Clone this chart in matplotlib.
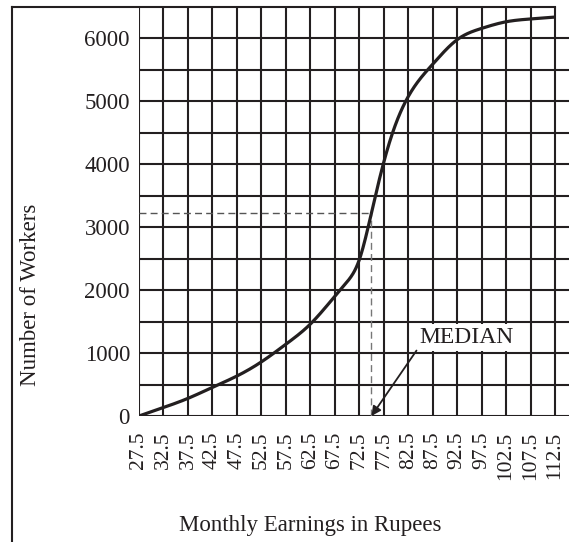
import numpy as np
import matplotlib
matplotlib.use("Agg")
import matplotlib.pyplot as plt
from matplotlib.lines import Line2D

# class boundaries (ticks / grid)
earnings = [27.5, 32.5, 37.5, 42.5, 47.5, 52.5, 57.5, 62.5, 67.5, 72.5,
            77.5, 82.5, 87.5, 92.5, 97.5, 102.5, 107.5, 112.5]
curve_x = [27.5, 32.5, 37.5, 42.5, 47.5, 52.5, 57.5, 62.5, 67.5, 70.0, 72.5,
           75.0, 77.5, 80.0, 82.5, 87.5, 92.5, 97.5, 102.5, 107.5, 112.5]
curve_y = [0, 135, 280, 455, 635, 860, 1140, 1460, 1900, 2130, 2480,
           3230, 4030, 4650, 5075, 5590, 5980, 6160, 6265, 6310, 6340]
median_x, median_y = 75.0, 3220
y_ticks = [0, 1000, 2000, 3000, 4000, 5000, 6000]

INK = "#231f20"
W, H = 569, 542
plt.rcParams["font.family"] = ["Liberation Serif", "DejaVu Serif"]


def spline(x, y, xs):
    # natural cubic spline, only used to draw a smooth line through the read points
    x = np.asarray(x, float); y = np.asarray(y, float)
    n = len(x); h = np.diff(x)
    A = np.zeros((n, n)); r = np.zeros(n)
    A[0, 0] = A[-1, -1] = 1
    for k in range(1, n - 1):
        A[k, k - 1], A[k, k], A[k, k + 1] = h[k - 1], 2 * (h[k - 1] + h[k]), h[k]
        r[k] = 6 * ((y[k + 1] - y[k]) / h[k] - (y[k] - y[k - 1]) / h[k - 1])
    M = np.linalg.solve(A, r)
    i = np.clip(np.searchsorted(x, xs) - 1, 0, n - 2)
    a = x[i + 1] - xs; b = xs - x[i]; hi = h[i]
    return (M[i] * a**3 / (6 * hi) + M[i + 1] * b**3 / (6 * hi)
            + (y[i] / hi - M[i] * hi / 6) * a + (y[i + 1] / hi - M[i + 1] * hi / 6) * b)


fig = plt.figure(figsize=(W / 100, H / 100), dpi=100)
ax_l, ax_r, ax_t, ax_b = 139, 569, 7, 416
ax = fig.add_axes([ax_l / W, 1 - ax_b / H, (ax_r - ax_l) / W, (ax_b - ax_t) / H])
px_per_unit = (555 - 139) / 85
ax.set_xlim(27.5, 27.5 + (ax_r - ax_l) / px_per_unit)
ax.set_ylim(0, 6500)
for s in ax.spines.values():
    s.set_visible(False)

# grid
for yv in range(0, 6500, 500):
    ax.axhline(yv, color=INK, lw=1.5, zorder=1)
for xv in earnings:
    ax.axvline(xv, color=INK, lw=1.5, zorder=1)

# median guides
ax.plot([earnings[0], median_x], [median_y, median_y], color="#555555", lw=1.0,
        ls=(0, (5, 3)), zorder=2)
ax.plot([median_x, median_x], [0, median_y], color="#777777", lw=1.0,
        ls=(0, (5, 3)), zorder=2)

xs = np.linspace(curve_x[0], curve_x[-1], 800)
ax.plot(xs, spline(curve_x, curve_y, xs), color=INK, lw=2.3, zorder=3,
        solid_capstyle="butt")

ax.text(94.4, 1250, "MEDIAN", fontsize=17, ha="center", va="center", color=INK,
        zorder=4, bbox=dict(boxstyle="square,pad=0.12", fc="white", ec="none"))
ax.annotate("", xy=(median_x, 0), xytext=(84.2, 1040), zorder=4,
            arrowprops=dict(arrowstyle="-|>", color=INK, lw=1.3, mutation_scale=14,
                            shrinkA=0, shrinkB=0))

ax.set_xticks(earnings)
ax.set_xticklabels([f"{v:g}" for v in earnings], rotation=90, fontsize=15.5, color=INK)
ax.set_yticks(y_ticks)
ax.set_yticklabels([str(v) for v in y_ticks], fontsize=16.5, color=INK)
ax.tick_params(axis="x", length=0, pad=11)
ax.tick_params(axis="y", length=0, pad=6.5)

fig.text(310 / W, 1 - 525 / H, "Monthly Earnings in Rupees", fontsize=16.5,
         ha="center", va="center", color=INK)
fig.text(31 / W, 1 - 295 / H, "Number of Workers", fontsize=16.5, rotation=90,
         ha="center", va="center", color=INK)

# outer frame (left and top)
fig.add_artist(Line2D([12 / W, 12 / W], [0, 1 - 7 / H], color=INK, lw=1.5,
                      transform=fig.transFigure))
fig.add_artist(Line2D([12 / W, 555 / W], [1 - 7 / H, 1 - 7 / H], color=INK, lw=1.5,
                      transform=fig.transFigure))

fig.savefig("out.png", dpi=100)
